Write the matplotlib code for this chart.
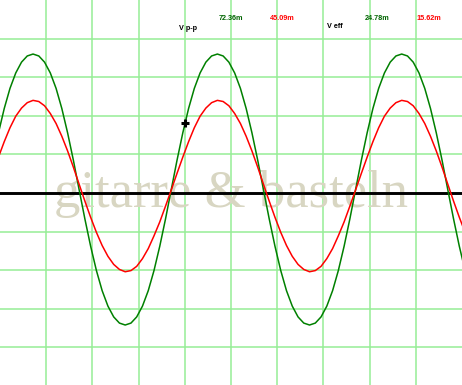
import matplotlib
matplotlib.use("Agg")
import matplotlib.pyplot as plt

# time base in divisions, values in mV (10 mV/div)
t_div = [-0.033, 0.092, 0.216, 0.341, 0.466, 0.590,
         0.715, 0.840, 0.964, 1.089, 1.214, 1.338, 1.463, 1.588,
         1.712, 1.837, 1.962, 2.087, 2.211, 2.336, 2.461, 2.585,
         2.710, 2.835, 2.959, 3.084, 3.209, 3.333, 3.458, 3.583,
         3.707, 3.832, 3.957, 4.082, 4.206, 4.331, 4.456, 4.580,
         4.705, 4.830, 4.954, 5.079, 5.204, 5.328, 5.453, 5.578,
         5.702, 5.827, 5.952, 6.077, 6.201, 6.326, 6.451, 6.575,
         6.700, 6.825, 6.949, 7.074, 7.199, 7.323, 7.448, 7.573,
         7.697, 7.822, 7.947, 8.072, 8.196, 8.321, 8.446, 8.570,
         8.695, 8.820, 8.944, 9.069, 9.194, 9.318, 9.443, 9.568,
         9.692, 9.817, 9.942, 10.067]

ch1_mv = [15.6, 21.9, 27.1, 31.1, 33.9, 35.5,
          36.0, 35.5, 33.9, 31.1, 27.1, 21.9, 15.6, 8.5,
          0.9, -6.7, -13.8, -20.1, -25.3, -29.3, -32.1, -33.7,
          -34.2, -33.7, -32.1, -29.3, -25.3, -20.1, -13.8, -6.7,
          0.9, 8.5, 15.6, 21.9, 27.1, 31.1, 33.9, 35.5,
          36.0, 35.5, 33.9, 31.1, 27.1, 21.9, 15.6, 8.5,
          0.9, -6.7, -13.8, -20.1, -25.3, -29.3, -32.1, -33.7,
          -34.2, -33.7, -32.1, -29.3, -25.3, -20.1, -13.8, -6.7,
          0.9, 8.5, 15.6, 21.9, 27.1, 31.1, 33.9, 35.5,
          36.0, 35.5, 33.9, 31.1, 27.1, 21.9, 15.6, 8.5,
          0.9, -6.7, -13.8, -20.1]

ch2_mv = [9.3, 13.3, 16.9, 19.9, 22.0, 23.4,
          24.0, 23.7, 22.6, 20.6, 18.0, 14.7, 10.9, 6.7,
          2.3, -2.1, -6.3, -10.2, -13.6, -16.4, -18.5, -19.8,
          -20.4, -20.1, -19.0, -17.0, -14.4, -11.1, -7.5, -3.4,
          0.8, 5.1, 9.3, 13.3, 16.9, 19.9, 22.0, 23.4,
          24.0, 23.7, 22.6, 20.6, 18.0, 14.7, 10.9, 6.7,
          2.3, -2.1, -6.3, -10.2, -13.6, -16.4, -18.5, -19.8,
          -20.4, -20.1, -19.0, -17.0, -14.4, -11.1, -7.5, -3.4,
          0.8, 5.1, 9.3, 13.3, 16.9, 19.9, 22.0, 23.4,
          24.0, 23.7, 22.6, 20.6, 18.0, 14.7, 10.9, 6.7,
          2.3, -2.1, -6.3, -10.2]

cursor_pos = (4.0, 18.1)

label_vpp = "V p-p"
label_veff = "V eff"
vpp_values = ["72.36m", "45.09m"]
veff_values = ["24.78m", "15.62m"]
watermark = "gitarre & basteln"

W, H = 462, 385
fig = plt.figure(figsize=(W / 100, H / 100), dpi=100)
fig.patch.set_facecolor("white")
ax = fig.add_axes([0, -1 / H, 1, 386 / H])
ax.set_xlim(0, 10)
ax.set_ylim(-50, 50)
for s in ax.spines.values():
    s.set_visible(False)
ax.set_xticks([])
ax.set_yticks([])

grid_c = "#96ee96"
for gx in range(1, 10):
    ax.axvline(gx, color=grid_c, lw=1.1, zorder=0)
for gy in range(-40, 50, 10):
    if gy != 0:
        ax.axhline(gy, color=grid_c, lw=1.1, zorder=0)

ax.text(5.0, -3.6, watermark, family="Liberation Serif", fontsize=38,
        color="#d8d6c2", ha="center", va="baseline", zorder=1)

ax.axhline(0, color="black", lw=2.1, zorder=2)

ax.plot(t_div, ch1_mv, color="#008000", lw=1.1, zorder=3)
ax.plot(t_div, ch2_mv, color="#ff0000", lw=1.1, zorder=3)

ax.plot([cursor_pos[0]], [cursor_pos[1]], marker="+", ms=6, mew=2.2,
        color="black", zorder=4)

fkw = dict(family="Liberation Sans", fontweight="bold", fontsize=5.2,
           va="center", ha="left")
fig.text(179 / W, 1 - 28 / H, label_vpp, color="black", **fkw)
fig.text(219 / W, 1 - 18 / H, vpp_values[0], color="#006400", **fkw)
fig.text(270 / W, 1 - 18 / H, vpp_values[1], color="#ff0000", **fkw)
fig.text(327 / W, 1 - 26 / H, label_veff, color="black", **fkw)
fig.text(365 / W, 1 - 18 / H, veff_values[0], color="#006400", **fkw)
fig.text(416 / W, 1 - 18 / H, veff_values[1], color="#ff0000", **fkw)

fig.savefig("out.png", dpi=100, facecolor="white")
